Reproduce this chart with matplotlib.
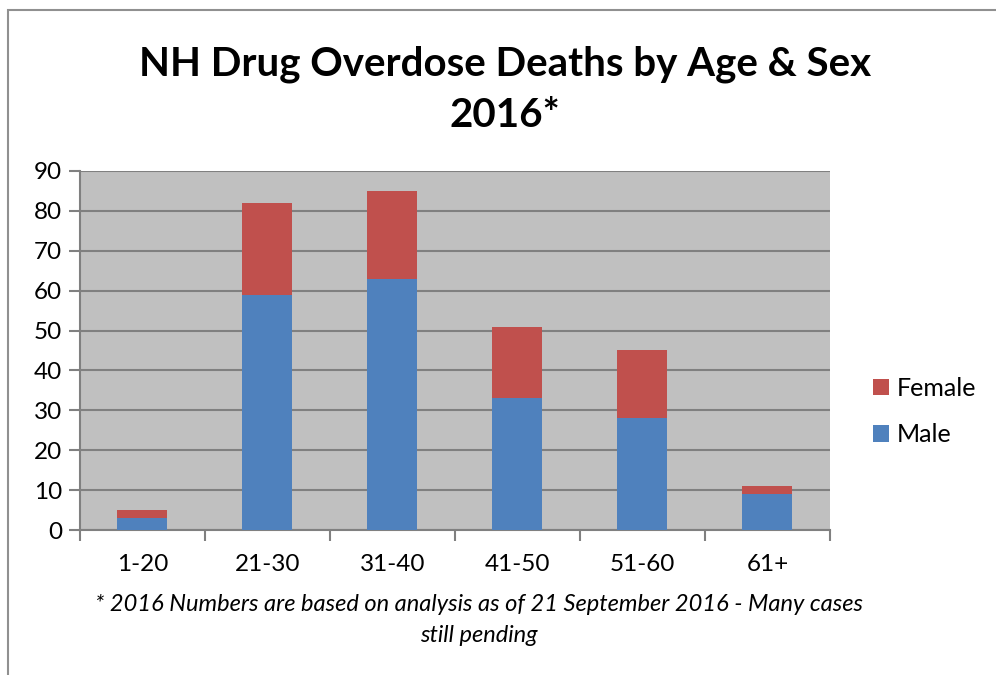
import numpy as np
import matplotlib.pyplot as plt
from matplotlib.patches import Rectangle

# deaths per age group, 2016
age_groups = ['1-20', '21-30', '31-40', '41-50', '51-60', '61+']
male = [3, 59, 63, 33, 28, 9]
female = [2, 23, 22, 18, 17, 2]

plt.rcParams['font.family'] = ['Lato', 'DejaVu Sans']

fig = plt.figure(figsize=(9.96, 6.75), dpi=100)
ax = fig.add_axes([0.0803, 0.2148, 0.753, 0.532])

x = np.arange(len(age_groups))
b_male = ax.bar(x, male, width=0.4, color='#4F81BD', label='Male', zorder=3)
b_female = ax.bar(x, female, width=0.4, bottom=male, color='#C0504D',
                  label='Female', zorder=3)

ax.set_facecolor('#C0C0C0')
ax.set_xlim(-0.5, len(age_groups) - 0.5)
ax.set_ylim(0, 90)
ax.set_yticks(range(0, 91, 10))
ax.yaxis.grid(True, color='#808080', linewidth=1.5, zorder=1)

# category ticks sit between groups, labels in the middle
ax.set_xticks(np.arange(-0.5, len(age_groups), 1.0))
ax.set_xticklabels([])
ax.set_xticks(x, minor=True)
ax.set_xticklabels(age_groups, minor=True)
ax.tick_params(axis='x', which='minor', length=0, pad=17, labelsize=17.5)
ax.tick_params(axis='x', which='major', length=8, width=1.5, color='#808080')
ax.tick_params(axis='y', length=8, width=1.5, color='#808080', labelsize=17.5, pad=5)

for side in ['top', 'right']:
    ax.spines[side].set_visible(False)
for side in ['left', 'bottom']:
    ax.spines[side].set_color('#808080')
    ax.spines[side].set_linewidth(1.5)

fig.text(0.507, 0.905, 'NH Drug Overdose Deaths by Age & Sex', ha='center',
         va='center', fontsize=29, fontweight='bold')
fig.text(0.507, 0.829, '2016*', ha='center', va='center', fontsize=29,
         fontweight='bold')

fig.text(0.481, 0.104, '* 2016 Numbers are based on analysis as of 21 September 2016 - Many cases',
         ha='center', va='center', fontsize=17, style='italic')
fig.text(0.481, 0.059, 'still pending', ha='center', va='center', fontsize=17,
         style='italic')

ax.legend(handles=[b_female, b_male], loc='center left',
          bbox_to_anchor=(1.057, 0.33), frameon=False, fontsize=18,
          borderpad=0, borderaxespad=0, handletextpad=0.3,
          handlelength=0.65, handleheight=0.65, labelspacing=0.95)

# outer chart frame
fig.patches.append(Rectangle((0.008, -0.1), 1.1, 1.085, transform=fig.transFigure,
                             fill=False, edgecolor='#909090', linewidth=1.5))

fig.savefig('out.png', dpi=100)
